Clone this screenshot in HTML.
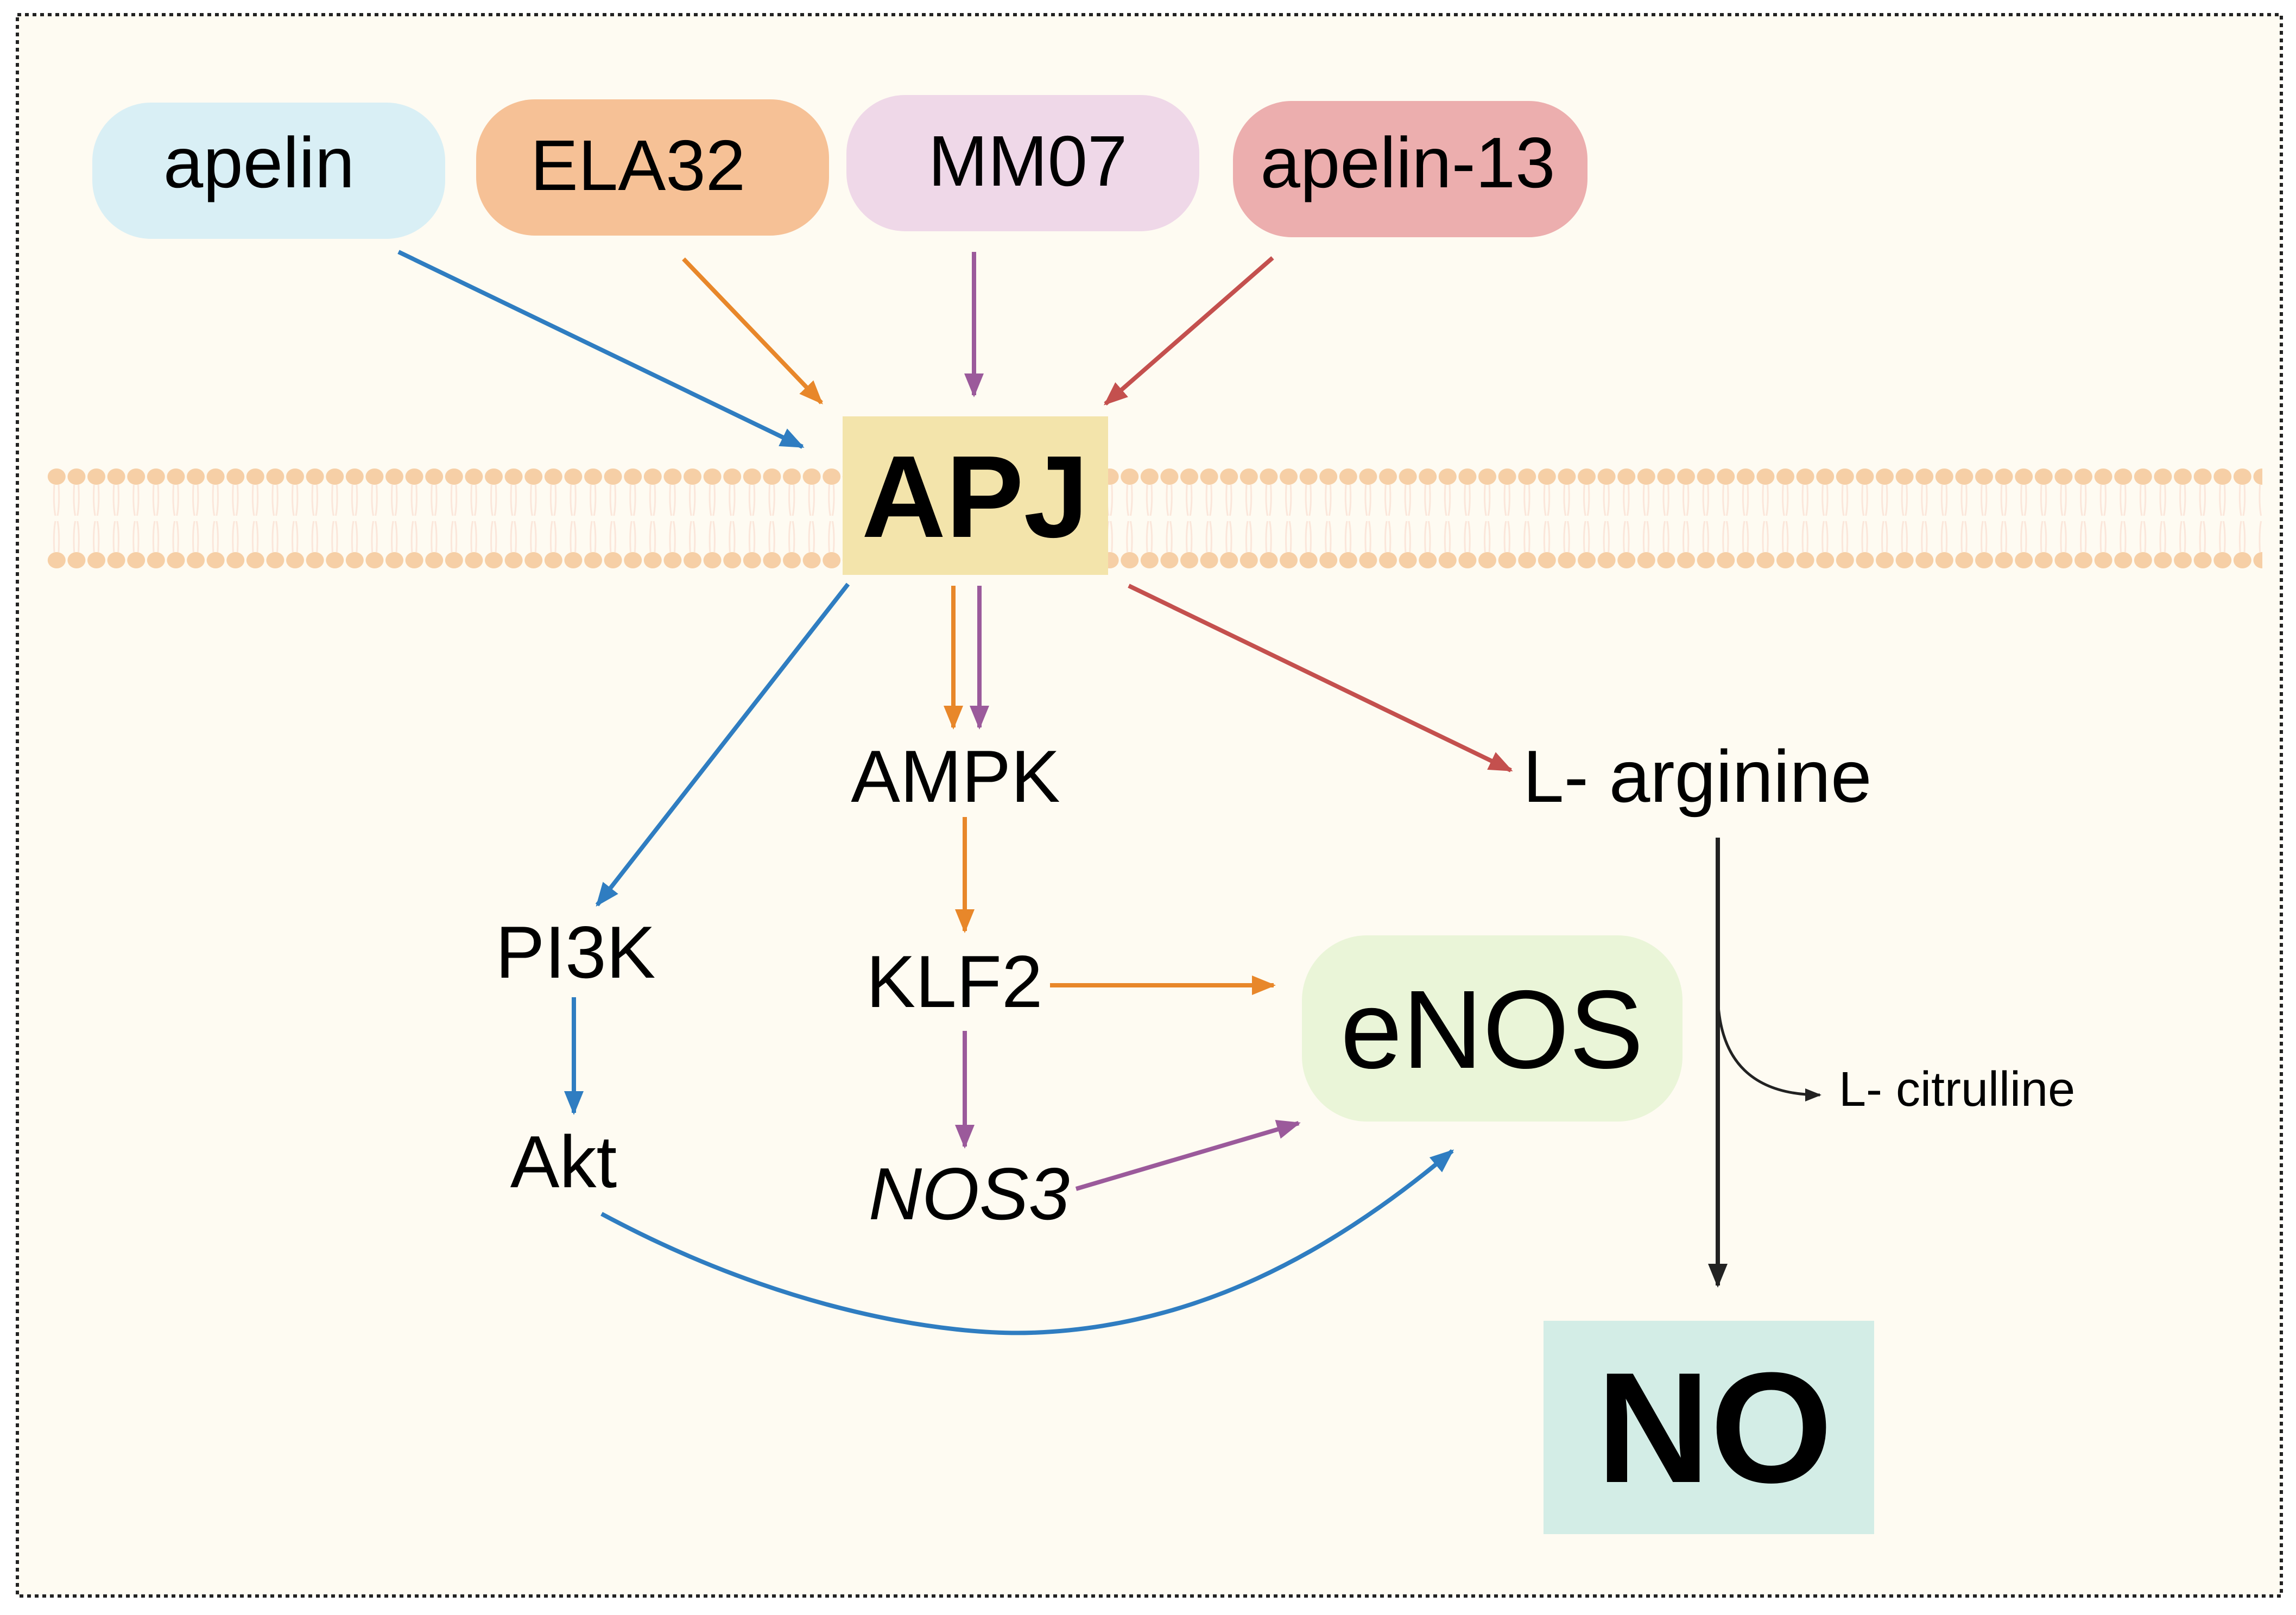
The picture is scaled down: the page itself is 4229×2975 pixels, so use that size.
<!DOCTYPE html>
<html><head><meta charset="utf-8"><style>
html,body{margin:0;padding:0;background:#fff;}
svg{display:block;}
text{font-family:"Liberation Sans",sans-serif;}
</style></head><body>
<svg width="4229" height="2975" viewBox="0 0 4229 2975" xmlns="http://www.w3.org/2000/svg">
<defs>
<marker id="mb" markerUnits="userSpaceOnUse" markerWidth="44" markerHeight="36" refX="40" refY="18" orient="auto"><path d="M0,0 L44,18 L0,36 Z" fill="#2f7dc1"/></marker>
<marker id="mo" markerUnits="userSpaceOnUse" markerWidth="44" markerHeight="36" refX="40" refY="18" orient="auto"><path d="M0,0 L44,18 L0,36 Z" fill="#e8872a"/></marker>
<marker id="mp" markerUnits="userSpaceOnUse" markerWidth="44" markerHeight="36" refX="40" refY="18" orient="auto"><path d="M0,0 L44,18 L0,36 Z" fill="#9b5a9b"/></marker>
<marker id="mr" markerUnits="userSpaceOnUse" markerWidth="44" markerHeight="36" refX="40" refY="18" orient="auto"><path d="M0,0 L44,18 L0,36 Z" fill="#c4504e"/></marker>
<marker id="mk" markerUnits="userSpaceOnUse" markerWidth="44" markerHeight="36" refX="40" refY="18" orient="auto"><path d="M0,0 L44,18 L0,36 Z" fill="#222"/></marker>
<marker id="mk2" markerUnits="userSpaceOnUse" markerWidth="30" markerHeight="24" refX="27" refY="12" orient="auto"><path d="M0,0 L30,12 L0,24 Z" fill="#222"/></marker>
<pattern id="lip" patternUnits="userSpaceOnUse" x="86" y="850" width="36.6" height="210">
<path d="M14,43 Q12,80 16,100 M22,43 Q24,80 20,100 M14,167 Q12,130 16,110 M22,167 Q24,130 20,110" stroke="#fbe6da" stroke-width="3" fill="none"/>
<ellipse cx="18.3" cy="28" rx="16.5" ry="15" fill="#f6cfa6"/>
<ellipse cx="18.3" cy="182" rx="16.5" ry="15" fill="#f6cfa6"/>
</pattern>
</defs>
<rect x="32" y="27" width="4170" height="2913" fill="#fefbf2" stroke="#222" stroke-width="6" stroke-dasharray="7,7"/>
<rect x="86" y="850" width="4081" height="210" fill="url(#lip)"/>

<rect x="170" y="189" width="650" height="251" rx="108" fill="#d9eff5"/>
<text x="477" y="345" font-size="132" text-anchor="middle">apelin</text>
<rect x="877" y="183" width="650" height="251" rx="108" fill="#f6c196"/>
<text x="1175" y="350" font-size="132" text-anchor="middle">ELA32</text>
<rect x="1559" y="175" width="650" height="251" rx="108" fill="#efd8e8"/>
<text x="1893" y="342" font-size="132" text-anchor="middle">MM07</text>
<rect x="2271" y="186" width="653" height="251" rx="108" fill="#ecaeae"/>
<text x="2593" y="345" font-size="132" text-anchor="middle">apelin-13</text>

<g stroke-width="8" fill="none">
<line x1="734" y1="464" x2="1478" y2="823" stroke="#2f7dc1" marker-end="url(#mb)"/>
<line x1="1259" y1="477" x2="1513" y2="742" stroke="#e8872a" marker-end="url(#mo)"/>
<line x1="1794" y1="464" x2="1794" y2="728" stroke="#9b5a9b" marker-end="url(#mp)"/>
<line x1="2344" y1="475" x2="2036" y2="744" stroke="#c4504e" marker-end="url(#mr)"/>
</g>

<rect x="1552" y="767" width="489" height="292" fill="#f3e4ab"/>
<text x="1796" y="989" font-size="215" font-weight="bold" text-anchor="middle">APJ</text>

<g stroke-width="8" fill="none">
<line x1="1562" y1="1076" x2="1100" y2="1667" stroke="#2f7dc1" marker-end="url(#mb)"/>
<line x1="1756" y1="1079" x2="1756" y2="1340" stroke="#e8872a" marker-end="url(#mo)"/>
<line x1="1804" y1="1079" x2="1804" y2="1340" stroke="#9b5a9b" marker-end="url(#mp)"/>
<line x1="2079" y1="1079" x2="2783" y2="1419" stroke="#c4504e" marker-end="url(#mr)"/>
<line x1="1777" y1="1505" x2="1777" y2="1715" stroke="#e8872a" marker-end="url(#mo)"/>
<line x1="1934" y1="1815" x2="2346" y2="1815" stroke="#e8872a" marker-end="url(#mo)"/>
<line x1="1777" y1="1899" x2="1777" y2="2112" stroke="#9b5a9b" marker-end="url(#mp)"/>
<line x1="1982" y1="2190" x2="2392" y2="2069" stroke="#9b5a9b" marker-end="url(#mp)"/>
<line x1="1057" y1="1837" x2="1057" y2="2050" stroke="#2f7dc1" marker-end="url(#mb)"/>
<path d="M1108,2236 C1450,2420 1750,2460 1900,2455 C2200,2445 2450,2310 2675,2120" stroke="#2f7dc1" marker-end="url(#mb)"/>
<line x1="3164" y1="1543" x2="3164" y2="2368" stroke="#222" marker-end="url(#mk)"/>
<path d="M3164,1834 Q3168,2017 3352,2017" stroke="#222" stroke-width="5" marker-end="url(#mk2)"/>
</g>

<text x="1760" y="1477" font-size="136" text-anchor="middle">AMPK</text>
<text x="1758" y="1855" font-size="136" text-anchor="middle">KLF2</text>
<text x="1785" y="2246" font-size="136" font-style="italic" text-anchor="middle">NOS3</text>
<text x="1060" y="1801" font-size="136" text-anchor="middle">PI3K</text>
<text x="1038" y="2187" font-size="136" text-anchor="middle">Akt</text>
<text x="2805" y="1477" font-size="136">L- arginine</text>
<text x="3387" y="2037" font-size="90">L- citrulline</text>

<rect x="2398" y="1723" width="701" height="343" rx="120" fill="#eaf5d8"/>
<text x="2748" y="1967" font-size="205" text-anchor="middle">eNOS</text>
<rect x="2843" y="2433" width="609" height="393" fill="#d3ede6"/>
<text x="3158" y="2730" font-size="290" font-weight="bold" text-anchor="middle">NO</text>
</svg>
</body></html>
